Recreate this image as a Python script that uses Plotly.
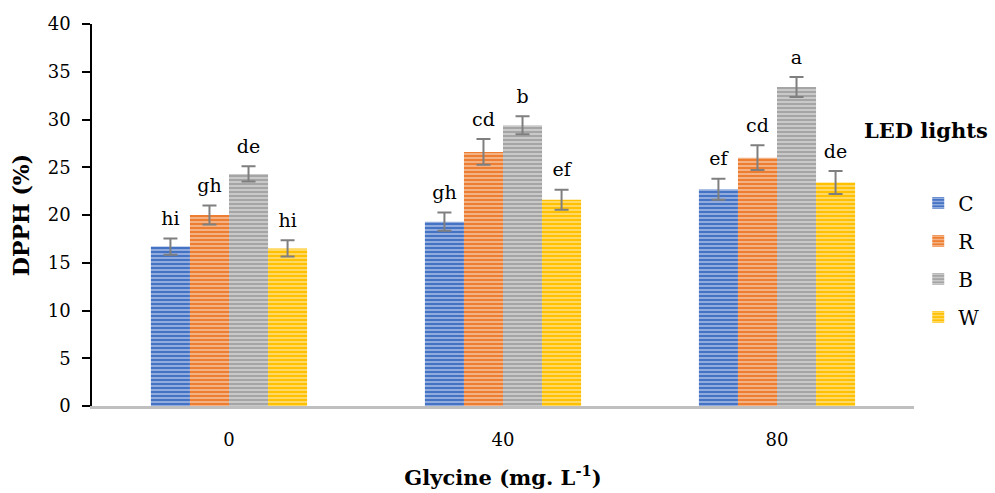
import plotly.graph_objects as go

categories = ["0", "40", "80"]
series_names = ["C", "R", "B", "W"]
values_C = [16.7, 19.3, 22.7]
values_R = [20.0, 26.6, 26.0]
values_B = [24.3, 29.4, 33.4]
values_W = [16.5, 21.6, 23.4]
err_C = [0.85, 0.95, 1.1]
err_R = [1.0, 1.35, 1.3]
err_B = [0.8, 0.95, 1.05]
err_W = [0.85, 1.05, 1.2]
letters_C = ["hi", "gh", "ef"]
letters_R = ["gh", "cd", "cd"]
letters_B = ["de", "b", "a"]
letters_W = ["hi", "ef", "de"]

colors = ["#4472C4", "#ED7D31", "#A5A5A5", "#FFC000"]
values = [values_C, values_R, values_B, values_W]
errs = [err_C, err_R, err_B, err_W]
letters = [letters_C, letters_R, letters_B, letters_W]

font_family = "DejaVu Serif, serif"

fig = go.Figure()
for i, name in enumerate(series_names):
    fig.add_trace(go.Bar(
        x=categories, y=values[i], name=name,
        offsetgroup=str(i), legendgroup=str(i),
        marker=dict(color=colors[i], line=dict(width=0),
                    pattern=dict(shape="-", fgcolor="white", fgopacity=0.45,
                                 size=4, solidity=0.45)),
        error_y=dict(type="data", array=errs[i], visible=True,
                     color="#7F7F7F", thickness=2, width=7),
    ))
for i, name in enumerate(series_names):
    fig.add_trace(go.Scatter(
        x=categories, y=[v + e for v, e in zip(values[i], errs[i])],
        mode="markers+text", text=letters[i], textposition="top center",
        marker=dict(size=12, opacity=0),
        textfont=dict(family=font_family, size=19, color="black"),
        offsetgroup=str(i), showlegend=False, hoverinfo="skip",
    ))

fig.update_layout(
    width=995, height=493,
    margin=dict(l=92, r=0, t=24, b=87, autoexpand=False),
    paper_bgcolor="white", plot_bgcolor="white",
    barmode="group", bargap=0.43, bargroupgap=0,
    scattermode="group", scattergap=0.43,
    font=dict(family=font_family, size=18, color="black"),
    legend=dict(x=0.915, xanchor="left", y=0.382, yanchor="middle",
                xref="paper", yref="paper",
                font=dict(family=font_family, size=20),
                tracegroupgap=9, itemwidth=30,
                bgcolor="rgba(0,0,0,0)"),
    showlegend=True,
    annotations=[dict(text="<b>LED lights</b>", x=0.9236, y=0.7225, xref="paper", yref="paper",
                      xanchor="center", yanchor="middle", showarrow=False,
                      font=dict(family=font_family, size=21, color="black"))],
)
fig.update_xaxes(
    type="category", domain=[0, 0.9103], showline=True, linecolor="#BFBFBF", linewidth=3,
    ticks="", showgrid=False, ticklabelstandoff=15,
    tickfont=dict(family=font_family, size=18),
    title=dict(text="<b>Glycine (mg. L<sup>-1</sup>)</b>", standoff=22,
               font=dict(family=font_family, size=21)),
)
fig.update_yaxes(
    range=[0, 40], dtick=5, showline=True, linecolor="black", linewidth=1.5,
    ticks="outside", ticklen=8, tickcolor="black", tickwidth=1.5,
    showgrid=False, zeroline=False, ticklabelstandoff=8,
    tickfont=dict(family=font_family, size=18),
    title=dict(text="<b>DPPH (%)</b>", standoff=12,
               font=dict(family=font_family, size=22)),
)
fig.write_html("out.html", config={"displayModeBar": False},
               post_script="document.body.style.margin='0';")
